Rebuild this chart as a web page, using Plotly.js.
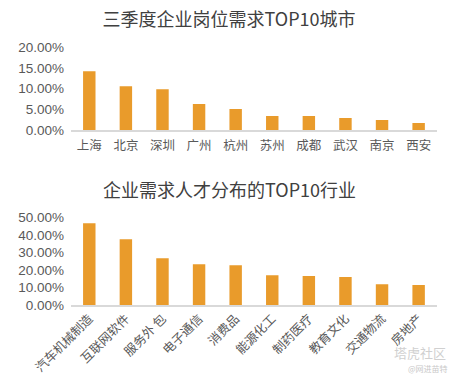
<!DOCTYPE html>
<html>
<head>
<meta charset="utf-8">
<script src="https://cdn.plot.ly/plotly-3.0.1.min.js"></script>
<style>html,body{margin:0;padding:0;background:#fff;}#chart{width:458px;height:379px;}</style>
</head>
<body>
<div id="chart"></div>
<script>
const cities = ["上海","北京","深圳","广州","杭州","苏州","成都","武汉","南京","西安"];
const cityShare = [0.1425, 0.106, 0.099, 0.063, 0.051, 0.034, 0.034, 0.029, 0.024, 0.017];
const industries = ["汽车机械制造","互联网软件","服务外 包","电子通信","消费品","能源化工","制药医疗","教育文化","交通物流","房地产"];
const industryShare = [0.466, 0.375, 0.267, 0.233, 0.227, 0.170, 0.165, 0.159, 0.119, 0.114];
const topTitle = "三季度企业岗位需求TOP10城市";
const bottomTitle = "企业需求人才分布的TOP10行业";

const barColor = "#E99B2B";
const font = "Noto Sans CJK SC, Noto Sans, sans-serif";
const numFont = "Liberation Sans, Arial, sans-serif";
const tickColor = "#595959";

const data = [
  {type: "bar", x: cities, y: cityShare, xaxis: "x", yaxis: "y",
   marker: {color: barColor}, hoverinfo: "none"},
  {type: "bar", x: industries, y: industryShare, xaxis: "x2", yaxis: "y2",
   marker: {color: barColor}, hoverinfo: "none"}
];

const xCommon = {
  domain: [0.155, 0.954], showline: true, linecolor: "#d9d9d9", linewidth: 1.5,
  ticks: "", showgrid: false, zeroline: false,
  tickfont: {family: font, size: 12.5, color: tickColor}
};
const yCommon = {
  showgrid: false, zeroline: false, showline: false, ticks: "",
  tickformat: ".2%", ticklabelstandoff: 6,
  tickfont: {family: numFont, size: 13.5, color: tickColor}
};

const layout = {
  width: 458, height: 379,
  margin: {l: 0, r: 0, t: 0, b: 0},
  paper_bgcolor: "#fff", plot_bgcolor: "#fff",
  showlegend: false, bargap: 0.66,
  font: {family: font},
  title: {text: topTitle, x: 0.5, xanchor: "center", y: 1 - 20/379, yanchor: "middle",
          font: {family: font, size: 18, color: "#404040"}},
  xaxis: Object.assign({}, xCommon, {anchor: "y", ticklabelstandoff: 3}),
  yaxis: Object.assign({}, yCommon, {domain: [1 - 130/379, 1 - 47.5/379], range: [0, 0.2], dtick: 0.05, anchor: "x"}),
  xaxis2: Object.assign({}, xCommon, {anchor: "y2", tickangle: -45}),
  yaxis2: Object.assign({}, yCommon, {domain: [1 - 305/379, 1 - 217.3/379], range: [0, 0.5], dtick: 0.1, anchor: "x2"}),
  annotations: [
    {text: bottomTitle, xref: "paper", yref: "paper", x: 0.5, y: 1 - 189/379,
     xanchor: "center", yanchor: "middle", showarrow: false,
     font: {family: font, size: 18, color: "#404040"}},
    {text: "塔虎社区", xref: "paper", yref: "paper", x: 448/458, y: 1 - 352/379,
     xanchor: "right", yanchor: "middle", showarrow: false,
     font: {family: font, size: 13, color: "#d0d0d0"}},
    {text: "@网进苗特", xref: "paper", yref: "paper", x: 450/458, y: 1 - 368/379,
     xanchor: "right", yanchor: "middle", showarrow: false,
     font: {family: font, size: 8, color: "#c8c8c8"}}
  ]
};

Plotly.newPlot("chart", data, layout, {staticPlot: true, displayModeBar: false});
</script>
</body>
</html>
